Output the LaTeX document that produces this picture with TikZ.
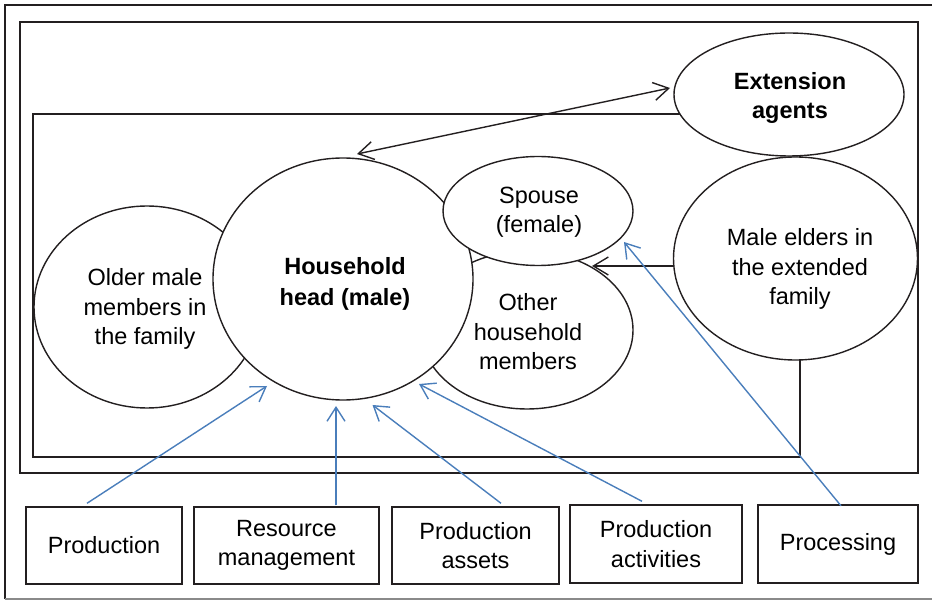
\documentclass[tikz,border=0pt]{standalone}
\usepackage{fontspec}
\setmainfont{Liberation Sans}
\usetikzlibrary{arrows.meta,shapes.geometric}
\definecolor{ink}{HTML}{231F20}
\definecolor{arrowblue}{HTML}{4A7EBB}
\definecolor{framegray}{HTML}{8A8A8A}
\begin{document}
\begin{tikzpicture}[x=1pt,y=-1pt,
  txt/.style={font=\fontsize{23.5}{29.5}\selectfont,align=center,inner sep=0pt},
  oval/.style={ellipse,draw=ink,line width=1.4pt,fill=white,inner sep=0pt},
  labelbox/.style={draw=ink,line width=1.4pt,fill=white,inner sep=0pt,txt,minimum height=77pt},
  blackarrow/.style={draw=ink,line width=1.4pt,-{Straight Barb[length=15pt,width=18pt,line width=1.4pt]}},
  bluearrow/.style={draw=arrowblue,line width=1.4pt,-{Straight Barb[length=14pt,width=18pt,line width=1.4pt]}}]
\useasboundingbox (0,0) rectangle (932,601);
% frames
\draw[ink,line width=1.2pt] (5,599) -- (5,5) -- (934,5);
\draw[framegray,line width=1.2pt] (5,599) -- (932,599);
\draw[ink,line width=1.9pt] (20,22) rectangle (918,473);
\draw[ink,line width=1.6pt] (33,114) rectangle (800,457);
% ellipses
\node[oval,minimum width=226pt,minimum height=202pt] (older) at (147,307) {};
\node[txt] (oldertext) at (145,309) {Older male\\members in\\the family};
\node[oval,minimum width=212pt,minimum height=158pt] (other) at (527,330) {};
\node[txt] (othertext) at (528,332) {Other\\household\\members};
\node[oval,minimum width=260pt,minimum height=242pt] (head) at (343,279) {};
\node[txt,font=\fontsize{23.5}{30.5}\selectfont\bfseries] (headtext) at (345,284) {Household\\head (male)};
\node[oval,minimum width=190pt,minimum height=109pt] (spouse) at (538,211) {};
\node[txt] (spousetext) at (539,212) {Spouse\\(female)};
\node[oval,minimum width=230pt,minimum height=123pt] (ext) at (789,94.5) {};
\node[txt,font=\fontsize{23.5}{28.5}\selectfont\bfseries] (exttext) at (790,98) {Extension\\agents};
\node[oval,minimum width=244pt,minimum height=203pt] (elders) at (795.5,258.5) {};
\node[txt] (elderstext) at (800,269) {Male elders in\\the extended\\family};
% bottom boxes
\node[labelbox,minimum width=156pt] (prod) at (104,545.5) {Production};
\node[labelbox,minimum width=185pt] (res) at (286.5,545.5) {Resource\\management};
\node[labelbox,minimum width=167pt] (ass) at (475.5,545.5) {Production\\assets};
\node[labelbox,minimum width=172pt,minimum height=78pt] (act) at (656,544) {Production\\activities};
\node[labelbox,minimum width=160pt,minimum height=78pt] (proc) at (838,544) {Processing};
% arrow end points
\coordinate (headTop) at (357,154);
\coordinate (extLeft) at (670,88);
\coordinate (eldersOut) at (673.5,266);
\coordinate (otherIn) at (592,266);
\coordinate (tipProd) at (267,386);
\coordinate (tipRes) at (336,406);
\coordinate (tipAss) at (372.5,405);
\coordinate (tipAct) at (419,384);
\coordinate (tipProc) at (624,242);
% black arrows
\draw[blackarrow,{Straight Barb[length=15pt,width=18pt,line width=1.4pt]}-{Straight Barb[length=15pt,width=18pt,line width=1.4pt]}] (headTop) -- (extLeft);
\draw[blackarrow] (eldersOut) -- (otherIn);
% blue arrows
\draw[bluearrow] ([xshift=-17pt,yshift=3pt]prod.north) -- (tipProd);
\draw[bluearrow] ([xshift=49.5pt,yshift=1pt]res.north) -- (tipRes);
\draw[bluearrow] ([xshift=25.5pt,yshift=3pt]ass.north) -- (tipAss);
\draw[bluearrow] ([xshift=-14pt,yshift=3pt]act.north) -- (tipAct);
\draw[bluearrow] ([xshift=3pt,yshift=-1.5pt]proc.north) -- (tipProc);
\end{tikzpicture}
\end{document}
